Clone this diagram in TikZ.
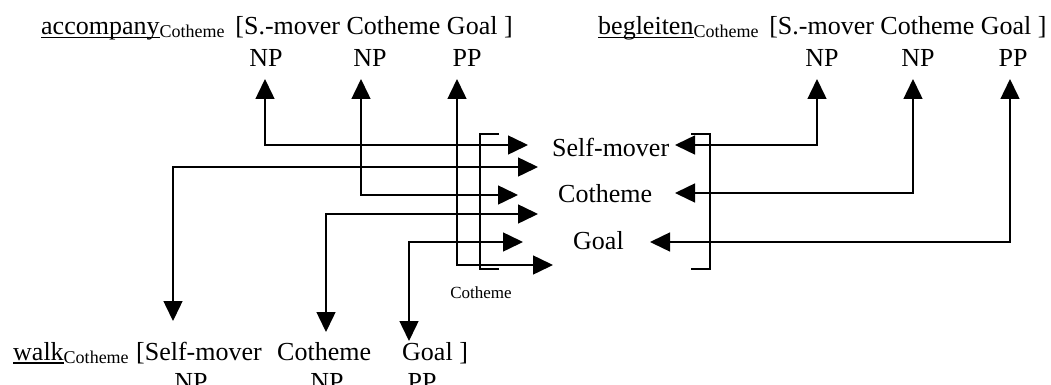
\documentclass[tikz,border=0pt]{standalone}
\usepackage{fontspec}
\setmainfont{Liberation Serif}
\usetikzlibrary{arrows.meta}
\tikzstyle{link} = [line width=1.5pt, {Triangle[length=20pt,width=19pt]}-{Triangle[length=20pt,width=19pt]}]
\tikzstyle{word} = [inner sep=0pt, font=\fontsize{26}{30}\selectfont]
\tikzstyle{smallword} = [inner sep=0pt, font=\fontsize{17}{20}\selectfont]
\newcommand{\lexul}[1]{\setbox0\hbox{#1}\rlap{\rule[-3.5pt]{\wd0}{1.2pt}}\box0}
\newcommand{\framesub}[1]{\raisebox{-3pt}{\fontsize{18}{18}\selectfont #1}}

\begin{document}
\begin{tikzpicture}[x=1pt, y=-1pt]
    \useasboundingbox (0,0) rectangle (1051,385);
    \clip (0,0) rectangle (1051,385);

    % English frame, top left
    \node[word, anchor=base west] (acc) at (41,35) {\lexul{accompany}\framesub{Cotheme}\ \,[S.-mover Cotheme Goal ]};
    \node[word, anchor=base] (accnp1) at (266,67) {NP};
    \node[word, anchor=base] (accnp2) at (370,67) {NP};
    \node[word, anchor=base] (accpp) at (467,67) {PP};

    % German frame, top right
    \node[word, anchor=base west] (beg) at (598,35) {\lexul{begleiten}\framesub{Cotheme}\ \,[S.-mover Cotheme Goal ]};
    \node[word, anchor=base] (begnp1) at (822,67) {NP};
    \node[word, anchor=base] (begnp2) at (918,67) {NP};
    \node[word, anchor=base] (begpp) at (1013,67) {PP};

    % frame elements in the middle
    \node[word, anchor=base west] (selfmover) at (552,156) {Self-mover};
    \node[word, anchor=base west] (cotheme) at (558,202) {Cotheme};
    \node[word, anchor=base west] (goal) at (573,249) {Goal};
    \node[smallword] (framelbl) at (481,293) {Cotheme};

    \draw[line width=1.5pt] (499,134) -- (480,134) -- (480,269) -- (499,269);
    \draw[line width=1.5pt] (691,134) -- (710,134) -- (710,269) -- (691,269);

    % walk frame, bottom
    \node[word, anchor=base west] (walk) at (13,360) {\lexul{walk}\framesub{Cotheme}};
    \node[word, anchor=base west] (walksm) at (136,360) {[Self-mover};
    \node[word, anchor=base west] (walkco) at (277,360) {Cotheme};
    \node[word, anchor=base west] (walkgo) at (402,360) {Goal ]};
    \node[word, anchor=base] (walknp1) at (191,390) {NP};
    \node[word, anchor=base] (walknp2) at (327,390) {NP};
    \node[word, anchor=base] (walkpp) at (422,390) {PP};

    % arrow ends
    \coordinate (a1) at (265,79);
    \coordinate (a2) at (361,79);
    \coordinate (a3) at (457,79);
    \coordinate (b1) at (817,79);
    \coordinate (b2) at (913,79);
    \coordinate (b3) at (1010,79);
    \coordinate (w1) at (173,321);
    \coordinate (w2) at (326,332);
    \coordinate (w3) at (409,341);
    \coordinate (m1) at (528,145);
    \coordinate (m2) at (538,167);
    \coordinate (m3) at (518,195);
    \coordinate (m4) at (538,214);
    \coordinate (m5) at (523,242);
    \coordinate (m6) at (553,265);
    \coordinate (r1) at (675,145);
    \coordinate (r2) at (675,193);
    \coordinate (r3) at (650,242);

    \draw[link] (a1) |- (m1);
    \draw[link] (w1) |- (m2);
    \draw[link] (a2) |- (m3);
    \draw[link] (w2) |- (m4);
    \draw[link] (w3) |- (m5);
    \draw[link] (a3) |- (m6);
    \draw[link] (b1) |- (r1);
    \draw[link] (b2) |- (r2);
    \draw[link] (b3) |- (r3);
\end{tikzpicture}
\end{document}
